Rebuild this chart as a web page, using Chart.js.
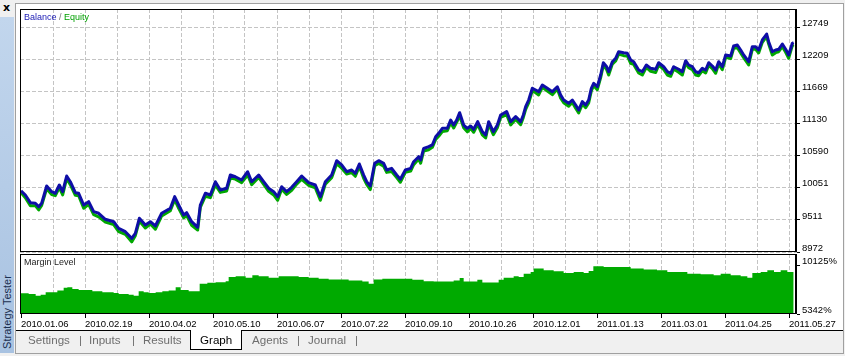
<!DOCTYPE html>
<html><head><meta charset="utf-8">
<script src="https://cdn.jsdelivr.net/npm/chart.js@4.4.1/dist/chart.umd.min.js"></script>
<style>
html,body{margin:0;padding:0;}
body{width:845px;height:356px;background:#f0f0f0;position:relative;overflow:hidden;font-family:"Liberation Sans",Arial,sans-serif;}
#side{position:absolute;left:0;top:17px;width:14px;height:336px;background:linear-gradient(#c2d6ed,#a8c2e1);}
#sidetxt{position:absolute;left:-43px;top:288px;width:100px;height:14px;line-height:14px;text-align:center;font-size:11px;color:#1b2f4f;transform:rotate(-90deg);white-space:nowrap;}
#close{position:absolute;left:3px;top:1px;font:bold 11px "DejaVu Sans",sans-serif;color:#000;}
#frame{position:absolute;left:15px;top:3px;width:829px;height:351px;box-sizing:border-box;border:1px solid #a0a0a0;background:#f0f0f0;}
#white{position:absolute;left:16px;top:4px;width:827px;height:326px;background:#fff;}
#stripline{position:absolute;left:16px;top:330px;width:827px;height:1px;background:#000;}
#gtab{position:absolute;left:190px;top:330px;width:52px;height:20px;box-sizing:border-box;background:#fff;border:1px solid #000;border-top:none;}
.tab{position:absolute;top:333px;font-size:11.6px;line-height:14px;color:#6e6e6e;white-space:nowrap;}
canvas{position:absolute;left:0;}
#c1{top:0;width:845px;height:256px;}
#c2{top:253px;width:845px;height:77px;}
.lbl{position:absolute;font-size:9px;line-height:11px;white-space:nowrap;}
</style>
</head><body>
<div id="frame"></div>
<div id="white"></div>
<div id="side"><div id="sidetxt">Strategy Tester</div></div>
<div id="close">x</div>
<canvas id="c1" width="845" height="256"></canvas>
<canvas id="c2" width="845" height="77"></canvas>
<div class="lbl" style="left:24px;top:12px;"><span style="color:#1a1ab4">Balance</span><span style="color:#777"> / </span><span style="color:#00a000">Equity</span></div>
<div class="lbl" style="left:24px;top:257px;color:#1e1e1e;">Margin Level</div>
<div id="stripline"></div>
<div id="gtab"></div>
<div class="tab" style="left:28px">Settings</div>
<div class="tab" style="left:79px">|</div>
<div class="tab" style="left:89px">Inputs</div>
<div class="tab" style="left:132px">|</div>
<div class="tab" style="left:143px">Results</div>
<div class="tab" style="left:200px;color:#000">Graph</div>
<div class="tab" style="left:252px">Agents</div>
<div class="tab" style="left:297px">|</div>
<div class="tab" style="left:308px">Journal</div>
<div class="tab" style="left:355px">|</div>
<script>
// ---- data ----
const deals = [0,13,28,43,53,62,77,92,103,115,125,137,148,163,173,188,203,218,233,253,278,293,313,332,343,355,373,388,403,422,448,461,473,488,497,512,530,538,553,568,583,598,617,628,643,662,680,692,713,728,743,758,770,782,797,812,827,842,863,883,898,913,932,947,962,977,992,1003,1015,1028,1037,1048,1061,1073,1088,1097,1112,1127,1138,1153,1169,1178,1193,1199,1208,1223,1234,1244,1253,1264,1279,1289,1298,1307,1316,1328,1339,1349,1358,1370,1384,1394,1403,1417,1429,1439,1457,1469,1484,1499,1507,1514,1523,1534,1544,1553,1564,1579,1594,1609,1619,1628,1643,1654,1664,1673,1684,1694,1703,1711,1718,1729,1739,1747,1757,1763,1774,1784,1793,1808,1819,1829,1838,1853,1864,1876,1889,1904,1913,1928,1939,1949,1958,1973,1984,1994,2003,2014,2024,2033,2044,2054,2063,2074,2084,2093,2104,2114,2129,2138,2149,2159,2168,2183,2194,2204,2213,2224,2237,2243,2254,2264,2273,2284,2294,2303,2314,2318];
const balance = [10000,9929,9800,9790,9733,9790,10080,9985,9958,10097,9985,10248,10152,9968,9958,9761,9817,9649,9622,9521,9481,9370,9313,9202,9286,9538,9425,9481,9409,9622,9706,9901,9761,9593,9632,9481,9387,9761,9958,9929,10152,10013,10042,10265,10236,10181,10320,10152,10265,10152,10042,9985,9901,10068,9985,10058,10152,10248,10136,10097,9901,10152,10265,10505,10433,10320,10349,10293,10450,10265,10152,10080,10461,10505,10461,10349,10377,10265,10193,10349,10377,10488,10572,10517,10713,10740,10769,10908,10965,11049,11049,11188,11104,11188,11311,11104,11049,11088,11032,11160,10992,10937,11160,10992,11104,11272,11328,11160,11244,11160,11272,11412,11524,11721,11692,11664,11776,11721,11664,11747,11608,11524,11469,11524,11440,11356,11496,11440,11524,11721,11805,11747,11944,12150,12083,11999,12167,12224,12335,12318,12308,12196,12167,12028,11999,12112,12056,12040,12150,12083,11999,11972,12083,12040,11999,12184,12112,12083,11999,11982,12056,12028,12150,12095,12028,12167,12083,12280,12263,12431,12448,12364,12280,12167,12419,12419,12364,12532,12632,12503,12335,12364,12375,12464,12375,12280,12476,12486];
const equity = [9970,9884,9750,9750,9678,9755,10035,9935,9918,10052,9930,10208,10102,9923,9918,9706,9772,9599,9562,9476,9431,9315,9268,9142,9246,9493,9375,9441,9354,9577,9666,9851,9706,9548,9582,9421,9342,9721,9908,9884,10097,9973,9997,10215,10196,10136,10265,10102,10225,10107,9992,9930,9841,10028,9940,10008,10112,10193,10091,10047,9841,10112,10220,10455,10378,10280,10304,10243,10410,10210,10107,10020,10421,10460,10411,10309,10322,10220,10143,10309,10332,10438,10532,10462,10668,10690,10729,10863,10915,10994,11009,11143,11054,11148,11256,11059,10989,11048,10982,11115,10937,10887,11120,10942,11059,11232,11278,11105,11199,11110,11232,11367,11474,11681,11647,11609,11736,11676,11614,11707,11553,11479,11419,11484,11385,11306,11456,11395,11474,11676,11765,11697,11899,12110,12033,11944,12127,12179,12295,12268,12263,12141,12122,11978,11944,12072,12006,11985,12110,12038,11944,11922,12043,11990,11944,12144,12067,12033,11944,11932,12016,11978,12110,12050,11973,12127,12033,12240,12218,12391,12403,12314,12235,12112,12379,12374,12314,12492,12587,12463,12280,12319,12335,12419,12325,12225,12436,12451];
const marginDeals = [0,23,44,59,74,94,109,128,139,154,173,199,214,244,278,293,323,338,353,368,383,404,424,443,464,479,503,529,536,559,584,614,623,644,674,694,713,743,773,803,833,863,893,923,953,983,1024,1043,1058,1084,1114,1144,1174,1208,1238,1268,1298,1316,1328,1354,1369,1384,1418,1433,1448,1478,1493,1508,1529,1538,1568,1598,1628,1658,1688,1703,1717,1748,1789,1829,1868,1908,1939,1958,1999,2039,2078,2099,2129,2159,2179,2194,2219,2239,2259,2279,2299,2318];
const marginLevel = [7365,7305,7136,7235,7465,7465,7634,7903,7963,7803,7704,7704,7564,7465,7405,7305,7235,7136,7564,7465,7405,7465,7564,7634,7963,7704,7564,7564,8302,8401,8461,8561,8959,9029,8900,9129,9029,8900,9029,9029,8959,8900,8800,8730,8730,8630,8531,8302,8730,8800,8800,8800,8700,8561,8531,8531,8630,8860,8531,8531,8700,8431,8431,8700,8900,9029,8959,9298,9457,9796,9627,9527,9358,9457,9358,9557,10026,9956,9956,9796,9697,9627,9457,9457,9298,9228,9129,9298,9129,9029,8900,9358,9457,9627,9457,9627,9457,9358];
const xGrid = [0,96,192,288,384,480,576,672,768,864,960,1056,1152,1248,1344,1440,1536,1632,1728,1824,1920,2016,2112,2208,2304];
const xTickLabels = ['2010.01.06','2010.02.19','2010.04.02','2010.05.10','2010.06.07','2010.07.22','2010.09.10','2010.10.26','2010.12.01','2011.01.13','2011.03.01','2011.04.25','2011.05.27'];
const yTickLabels = ['8972','9511','10051','10590','11130','11669','12209','12749'];
const marginTickLabels = ['5342%','10125%'];

// ---- rendering ----
const FONT = {family:"'Liberation Sans', Arial, sans-serif", size:9.5};
const GRID = '#c4c4c4';
const CLEAR = 'rgba(0,0,0,0)';
const DASH = [4,2];
const framePlugin = {
  id:'frame',
  afterDraw(chart){
    const {ctx, chartArea:a} = chart;
    const w = a.right - a.left, h = a.bottom - a.top;
    ctx.save();
    ctx.fillStyle = '#000';
    ctx.fillRect(a.left, a.top, w, 1);
    ctx.fillRect(a.left, a.bottom - 1, w, 1);
    ctx.fillRect(a.left, a.top, 1, h);
    ctx.fillRect(a.right - 2, a.top, 2, h);
    ctx.restore();
  }
};
const xScale = (extra) => Object.assign({
  type:'linear', min:-3, max:2328,
  afterBuildTicks: s => { s.ticks = xGrid.map(v => ({value:v})); },
  border:{display:false, dash:DASH}
}, extra);

new Chart(document.getElementById('c1'), {
  type:'line',
  data:{datasets:[
    {data: deals.map((d,i)=>({x:d, y:balance[i]})), borderColor:'#0e0ea6', borderWidth:3, pointRadius:0, order:0, borderJoinStyle:'round'},
    {data: deals.map((d,i)=>({x:d, y:equity[i]})), borderColor:'#00a800', borderWidth:3, pointRadius:0, order:1, borderJoinStyle:'round'}
  ]},
  options:{
    responsive:false, animation:false, devicePixelRatio:1,
    layout:{padding:{left:20, top:9, right:0, bottom:4}},
    plugins:{legend:{display:false}, tooltip:{enabled:false}},
    scales:{
      x: xScale({
        afterFit: s => { s.height = 0; s.paddingLeft = 0; s.paddingRight = 0; },
        ticks:{display:false},
        grid:{color: c => c.index === 0 ? CLEAR : GRID, lineWidth:1, drawTicks:false, borderDash:DASH}
      }),
      y:{
        position:'right', min:8972, max:13052,
        afterBuildTicks: s => { s.ticks = yTickLabels.map(v => ({value:Number(v)})); },
        afterFit: s => { s.width = 48; s.paddingTop = 0; s.paddingBottom = 0; },
        ticks:{callback:(v,i)=>yTickLabels[i], font:FONT, color:'#000', padding:2, labelOffset:-4, autoSkip:false},
        grid:{color:GRID, borderDash:DASH, tickColor:'#000', tickLength:3, tickBorderDash:[], tickWidth:1},
        border:{display:false, dash:DASH}
      }
    }
  },
  plugins:[framePlugin]
});

new Chart(document.getElementById('c2'), {
  type:'line',
  data:{datasets:[
    {data: marginDeals.map((d,i)=>({x:d, y:marginLevel[i]})), borderWidth:0, borderColor:'#00aa00', backgroundColor:'#00aa00', fill:'start', stepped:true, pointRadius:0}
  ]},
  options:{
    responsive:false, animation:false, devicePixelRatio:1,
    layout:{padding:{left:20, top:1, right:0, bottom:0}},
    plugins:{legend:{display:false}, tooltip:{enabled:false}},
    scales:{
      x: xScale({
        afterFit: s => { s.height = 16; s.paddingLeft = 0; s.paddingRight = 0; },
        ticks:{autoSkip:false, maxRotation:0, minRotation:0, align:'start', padding:1, font:FONT, color:'#000',
               callback:(v,i)=> i % 2 === 0 ? xTickLabels[i/2] : ''},
        grid:{color: c => c.index === 0 ? CLEAR : GRID, lineWidth:1, borderDash:DASH,
              tickColor: c => c.index % 2 === 0 ? '#000' : CLEAR, tickLength:4, tickBorderDash:[]}
      }),
      y:{
        position:'right', min:5342, max:11221,
        afterBuildTicks: s => { s.ticks = marginTickLabels.map(v => ({value:parseFloat(v)})); },
        afterFit: s => { s.width = 48; s.paddingTop = 0; s.paddingBottom = 0; },
        ticks:{callback:(v,i)=>marginTickLabels[i], font:FONT, color:'#000', padding:2, labelOffset:-4, autoSkip:false},
        grid:{drawOnChartArea:false, tickColor:'#000', tickLength:3, tickBorderDash:[]},
        border:{display:false}
      }
    }
  },
  plugins:[framePlugin]
});
</script>
</body></html>
